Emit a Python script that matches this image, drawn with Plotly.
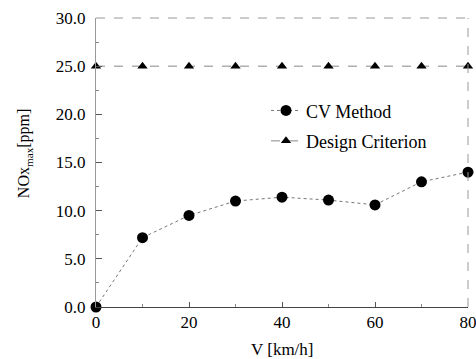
import plotly.graph_objects as go

speed = [0, 10, 20, 30, 40, 50, 60, 70, 80]
cv_method = [0.0, 7.2, 9.5, 11.0, 11.4, 11.1, 10.6, 13.0, 14.0]
design_criterion = [25, 25, 25, 25, 25, 25, 25, 25, 25]
y_ticks = [0, 5, 10, 15, 20, 25, 30]
y_labels = ["0.0", "5.0", "10.0", "15.0", "20.0", "25.0", "30.0"]
x_ticks = [0, 20, 40, 60, 80]

font = "Liberation Serif"

fig = go.Figure()
fig.add_trace(go.Scatter(
    x=speed, y=cv_method, name="CV Method", mode="lines+markers",
    line=dict(color="#777777", width=1, dash="dot"),
    marker=dict(symbol="circle", size=11, color="black"),
    cliponaxis=False, legendgroup="a",
))
fig.add_trace(go.Scatter(
    x=speed, y=design_criterion, name="Design Criterion", mode="lines+markers",
    line=dict(color="#888888", width=1, dash="dash"),
    marker=dict(symbol="triangle-up", size=9, color="black"),
    cliponaxis=False, legendgroup="b",
))

fig.update_layout(
    width=476, height=359,
    margin=dict(l=96, r=8, t=18, b=52, autoexpand=False),
    paper_bgcolor="white", plot_bgcolor="white",
    font=dict(family=font, size=16, color="black"),
    showlegend=True,
    legend=dict(x=0.457, y=0.743, xanchor="left", yanchor="top",
                bgcolor="rgba(0,0,0,0)", font=dict(family=font, size=18),
                traceorder="grouped", tracegroupgap=4, itemwidth=30),
    xaxis=dict(range=[0, 80], tickvals=x_ticks, ticks="inside", ticklen=5,
               tickcolor="#555", showgrid=False, zeroline=False,
               showline=True, linecolor="#444", linewidth=1, mirror=False,
               automargin=False, tickfont=dict(family=font, size=17),
               ticklabeloverflow="allow",
               minor=dict(tickvals=[10, 30, 50, 70], ticks="inside", ticklen=3, tickcolor="#888")),
    yaxis=dict(range=[0, 30], tickvals=y_ticks, ticktext=y_labels, ticks="inside",
               ticklen=6, tickcolor="#555", showgrid=False, zeroline=False,
               showline=True, linecolor="#999", linewidth=1,
               automargin=False, tickfont=dict(family=font, size=17),
               ticklabelstandoff=6,
               minor=dict(tickvals=[2.5, 7.5, 12.5, 17.5, 22.5, 27.5], ticks="inside", ticklen=3, tickcolor="#888")),
    annotations=[
        dict(text="V [km/h]", xref="paper", yref="paper", x=0.5, y=-0.148,
             xanchor="center", yanchor="middle", showarrow=False,
             font=dict(family=font, size=17)),
        dict(text="NOx<sub>max</sub>[ppm]", xref="paper", yref="paper", x=-0.19, y=0.53,
             xanchor="center", yanchor="middle", showarrow=False, textangle=-90,
             font=dict(family=font, size=16)),
    ],
)
fig.add_shape(type="line", xref="paper", yref="paper", x0=0, x1=1, y0=1, y1=1,
              line=dict(color="#999", width=1, dash="dash"))
fig.add_shape(type="line", xref="paper", yref="paper", x0=1, x1=1, y0=0, y1=1,
              line=dict(color="#999", width=1, dash="dash"))

fig.write_html("out.html")
